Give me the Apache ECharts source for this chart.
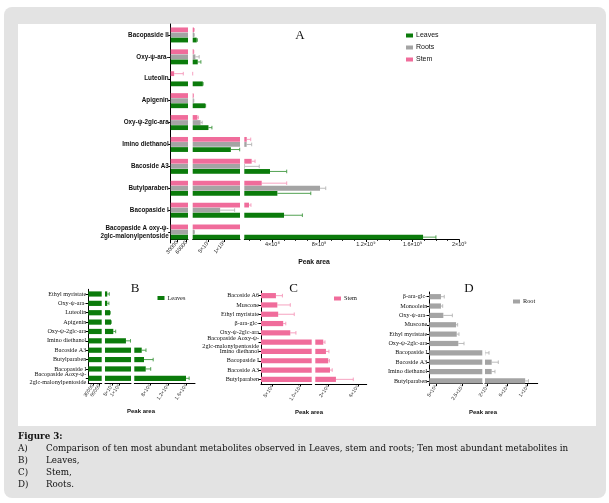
<!DOCTYPE html>
<html><head><meta charset="utf-8">
<script src="https://cdn.jsdelivr.net/npm/echarts@6/dist/echarts.min.js"></script>
<style>
html,body{margin:0;padding:0;background:#fff;}
#bg{position:absolute;left:4px;top:7px;width:602px;height:491px;background:#e3e3e3;border-radius:8px;}
#panel{position:absolute;left:17.5px;top:23.5px;width:578px;height:402px;background:#fff;}
#c{position:absolute;left:0;top:0;width:609px;height:503px;}
</style>
</head><body><div id="bg"></div><div id="panel"></div><div id="c"></div>
<script>
// ---------- DATA ----------
const categoriesA = ['Bacopaside II','Oxy-ψ-ara-','Luteolin','Apigenin','Oxy-ψ-2glc-ara','Imino diethanol','Bacoside A3','Butylparaben','Bacopaside I','Bacopaside A oxy-ψ-\n2glc-malonylpentoside'];
const leavesA   = [1.27e7, 1.6e7, 3.2e7, 4.0e7, 5.0e7, 1.21e8, 3.8e8, 4.43e8, 5.0e8, 1.69e9];
const leavesSdA = [2e6, 1e7, 1e6, 1e6, 1.1e7, 2.8e7, 1.43e8, 2.86e8, 1.57e8, 1.1e8];
const rootsA    = [4e6, 8.5e6, 0, 3e6, 2.5e7, 1.8e8, 1.65e8, 8.08e8, 8.7e7, 5e6];
const rootsSdA  = [1e6, 1.2e7, 0, 5e5, 5e6, 4.3e7, 1.23e8, 4.9e7, 4.6e7, 5e5];
const stemA     = [4e6, 3e6, 21000, 2e6, 1.5e7, 1.81e8, 2.23e8, 3.09e8, 2.0e8, 1.55e8];
const stemSdA   = [1e6, 5e5, 29000, 5e5, 3e6, 3.4e7, 2.9e7, 2.14e8, 1.7e7, 0];

const categoriesB = ['Ethyl myristate','Oxy-ψ-ara-','Luteolin','Apigenin','Oxy-ψ-2glc-ara','Imino diethanol','Bacoside A3','Butylparaben','Bacopaside I','Bacopaside Aoxy-ψ-\n2glc-malonylpentoside'];
const leavesB   = [1.6e7, 1.6e7, 3.55e7, 4.26e7, 5.9e7, 1.49e8, 6.15e8, 6.66e8, 7.04e8, 1.6e9];
const leavesSdB = [1.45e7, 1.2e7, 2e6, 2e6, 1.7e7, 3.3e7, 9.5e7, 2.04e8, 1.11e8, 7e7];

const categoriesC = ['Bacoside A6','Muscone','Ethyl myristate','β-ara-glc-','Oxy-ψ-2glc-ara','Bacopaside Aoxy-ψ-\n2glc-malonylpentoside','Imino diethanol','Bacopaside I','Bacoside A3','Butylparaben'];
const stemC   = [5.65e6, 5.9e6, 6.05e6, 6.94e6, 8.2e6, 1.37e8, 1.73e8, 2.04e8, 2.27e8, 3.07e8];
const stemSdC = [1.15e6, 2.3e6, 2.85e6, 4.6e5, 1.0e6, 2.3e7, 4e7, 1.6e7, 3e7, 2.33e8];

const categoriesD = ['β-ara-glc-','Monoolein','Oxy-ψ-ara-','Muscone','Ethyl myristate','Oxy-ψ-2glc-ara','Bacopaside I','Bacoside A3','Imino diethanol','Butylparaben'];
const rootD   = [8.8e6, 8.8e6, 1.06e7, 2.02e7, 2.07e7, 2.19e7, 1.55e8, 2.83e8, 2.83e8, 9.5e8];
const rootSdD = [2.5e6, 1.3e6, 6.8e6, 1.2e6, 1.7e6, 4.3e6, 7.5e7, 1.32e8, 6.6e7, 6.6e7];

const ticksA = [[30000, 60000], [5e7, 1e8], [4e8, 8e8, 1.2e9, 1.6e9, 2e9]];
const tickLabelsA = [['30000','60000'], ['5×10⁷','1×10⁸'], ['4×10⁸','8×10⁸','1.2×10⁹','1.6×10⁹','2×10⁹']];
const minorTicksA3 = [2e8, 3e8, 5e8, 6e8, 7e8, 9e8, 1e9, 1.1e9, 1.3e9, 1.4e9, 1.5e9, 1.7e9, 1.8e9, 1.9e9];
const ticksB = [[30000, 60000], [5e7, 1e8], [8e8, 1.2e9, 1.6e9]];
const tickLabelsB = [['30000','60000'], ['5×10⁷','1×10⁸'], ['8×10⁸','1.2×10⁹','1.6×10⁹']];
const ticksC = [[5e6, 1e7], [2e8, 6e8]];
const tickLabelsC = [['5×10⁶','1.0×10⁷'], ['2×10⁸','6×10⁸']];
const ticksD = [[5e6, 2.5e7], [2e8, 6e8, 1e9]];
const tickLabelsD = [['5×10⁶','2.5×10⁷'], ['2×10⁸','6×10⁸','1×10⁹']];

// ---------- STYLE / LAYOUT ----------
const GREEN = '#0b7b0b', GREY = '#a4a4a4', PINK = '#f06c9b';
const ERR = {'#0b7b0b': '#3f973f', '#a4a4a4': '#b4b4b4', '#f06c9b': '#f598ba'};
const SANS = '"Liberation Sans", "DejaVu Sans", Arial, sans-serif';
const SERIF = '"Liberation Serif", "DejaVu Serif", serif';

const option = {
  animation: false, backgroundColor: 'transparent',
  grid: [], xAxis: [], yAxis: [], series: [], legend: [], graphic: []
};

function lookup(ticks, labels, v) {
  for (let i = 0; i < ticks.length; i++) if (Math.abs(ticks[i] - v) <= Math.abs(ticks[i]) * 1e-9) return labels[i];
  return '';
}

function panel(p) {
  const n = p.series.length, w = p.barWidth, g = p.barGapFrac;
  const total = n * w + (n - 1) * g * w;
  p.segs.forEach((s, i) => {
    const gi = option.grid.length;
    option.grid.push({left: s.left, top: p.top, width: s.width, height: p.height, containLabel: false, outerBoundsMode: 'none'});
    option.xAxis.push({
      gridIndex: gi, type: 'value', min: s.min, max: s.max, offset: p.xOffset || 0,
      axisLine: {show: true, onZero: false, lineStyle: {color: '#000', width: 1}},
      axisTick: {show: true, length: 2.5, customValues: p.ticks[i], lineStyle: {color: '#000', width: 1}},
      axisLabel: {show: true, customValues: p.ticks[i], formatter: v => lookup(p.ticks[i], p.labels[i], v),
        rotate: p.rotate[i], fontSize: p.tickFont, fontFamily: SANS, color: '#222', margin: 2},
      splitLine: {show: false}, minorTick: {show: false}
    });
    if (p.minor && p.minor[i]) {
      option.xAxis.push({
        gridIndex: gi, type: 'value', min: s.min, max: s.max, position: 'bottom', offset: p.xOffset || 0,
        axisLine: {show: false}, axisLabel: {show: false}, splitLine: {show: false},
        axisTick: {show: true, length: 1.5, customValues: p.minor[i], lineStyle: {color: '#000', width: 0.8}}
      });
    }
    option.yAxis.push({
      gridIndex: gi, type: 'category', data: p.cats, inverse: true, show: i === 0,
      axisLine: {show: true, onZero: false, lineStyle: {color: '#000', width: 1}},
      axisTick: {show: true, alignWithLabel: true, length: 2.5, lineStyle: {color: '#000', width: 1}},
      axisLabel: {interval: 0, fontSize: p.catFont, fontFamily: p.catFamily, fontWeight: p.catWeight,
        color: '#111', margin: 2, lineHeight: 8},
      splitLine: {show: false}
    });
    const xi = option.xAxis.length - (p.minor && p.minor[i] ? 2 : 1);
    p.series.forEach(se => {
      option.series.push({type: 'bar', name: se.name, xAxisIndex: xi, yAxisIndex: gi, data: se.data,
        barWidth: w, barGap: (g * 100) + '%', itemStyle: {color: se.color}, clip: true, silent: true});
    });
    p.series.forEach((se, k) => {
      const off = -total / 2 + k * w * (1 + g) + w / 2;
      const col = ERR[se.color] || se.color;
      option.series.push({
        type: 'custom', xAxisIndex: xi, yAxisIndex: gi, clip: true, silent: true,
        data: se.data.map((v, j) => [v, v + se.sd[j], j]),
        encode: {x: [0, 1], y: 2},
        renderItem: (params, api) => {
          const v = api.value(0), e = api.value(1), c = api.value(2);
          if (!(e > v)) return null;
          const p1 = api.coord([v, c]), p2 = api.coord([e, c]);
          const y = p1[1] + off;
          return {type: 'group', children: [
            {type: 'line', shape: {x1: p1[0], y1: y, x2: p2[0], y2: y}, style: {stroke: col, lineWidth: 0.9}},
            {type: 'line', shape: {x1: p2[0], y1: y - 1.8, x2: p2[0], y2: y + 1.8}, style: {stroke: col, lineWidth: 0.9}}
          ]};
        }
      });
    });
  });
}

panel({
  cats: categoriesA, top: 24, height: 219, xOffset: -3.5,
  segs: [{left: 170.7, width: 17.3, min: 10000, max: 65000},
         {left: 192.7, width: 47.3, min: 0, max: 1.5e8},
         {left: 244.3, width: 215, min: 1.6e8, max: 2e9}],
  ticks: ticksA, labels: tickLabelsA, minor: [null, null, minorTicksA3], rotate: [50, 50, 0], tickFont: 5.5,
  catFont: 6.3, catFamily: SANS, catWeight: 'bold',
  barWidth: 4.8, barGapFrac: 0.06,
  series: [{name: 'Stem', color: PINK, data: stemA, sd: stemSdA},
           {name: 'Roots', color: GREY, data: rootsA, sd: rootsSdA},
           {name: 'Leaves', color: GREEN, data: leavesA, sd: leavesSdA}]
});
panel({
  cats: categoriesB, top: 289.3, height: 93.7,
  segs: [{left: 88.3, width: 13.4, min: 10000, max: 70000},
         {left: 105, width: 26, min: 0, max: 1.85e8},
         {left: 134.3, width: 60.7, min: 4.5e8, max: 1.8e9}],
  ticks: ticksB, labels: tickLabelsB, rotate: [55, 55, 55], tickFont: 5,
  catFont: 6.2, catFamily: SERIF, catWeight: 'normal',
  barWidth: 5.2, barGapFrac: 0,
  series: [{name: 'Leaves', color: GREEN, data: leavesB, sd: leavesSdB}]
});
panel({
  cats: categoriesC, top: 291, height: 93,
  segs: [{left: 261, width: 50.7, min: 3e6, max: 1.2e7},
         {left: 315.3, width: 51.4, min: 3e7, max: 7.2e8}],
  ticks: ticksC, labels: tickLabelsC, rotate: [55, 55], tickFont: 5,
  catFont: 6.2, catFamily: SERIF, catWeight: 'normal',
  barWidth: 5.2, barGapFrac: 0,
  series: [{name: 'Stem', color: PINK, data: stemC, sd: stemSdC}]
});
panel({
  cats: categoriesD, top: 292, height: 93.6, xOffset: -2,
  segs: [{left: 429.3, width: 53, min: 0, max: 4e7},
         {left: 485, width: 52.7, min: 1.5e8, max: 1.2e9}],
  ticks: ticksD, labels: tickLabelsD, rotate: [55, 55], tickFont: 5,
  catFont: 6.2, catFamily: SERIF, catWeight: 'normal',
  barWidth: 5.2, barGapFrac: 0,
  series: [{name: 'Root', color: GREY, data: rootD, sd: rootSdD}]
});

const legendBase = {orient: 'vertical', icon: 'rect', itemWidth: 7, itemHeight: 4, itemGap: 5, selectedMode: false, padding: 0};
option.legend = [
  Object.assign({}, legendBase, {data: ['Leaves', 'Roots', 'Stem'], left: 406, top: 32, textStyle: {fontSize: 7, fontFamily: SANS, color: '#111', padding: [0, 0, 0, -2]}}),
  Object.assign({}, legendBase, {data: ['Leaves'], left: 157.5, top: 295, textStyle: {fontSize: 6.3, fontFamily: SERIF, color: '#111', padding: [0, 0, 0, -2]}}),
  Object.assign({}, legendBase, {data: ['Stem'], left: 334, top: 295.5, textStyle: {fontSize: 6.3, fontFamily: SERIF, color: '#111', padding: [0, 0, 0, -2]}}),
  Object.assign({}, legendBase, {data: ['Root'], left: 513, top: 298.5, textStyle: {fontSize: 6.3, fontFamily: SERIF, color: '#111', padding: [0, 0, 0, -2]}})
];

function txt(x, y, text, font, align) {
  return {type: 'text', x: x, y: y, silent: true, style: {text: text, font: font, fill: '#111', align: align || 'left', verticalAlign: 'middle'}};
}
const CAPSERIF = '"DejaVu Serif", "Liberation Serif", serif';
const capFont = '8.75px ' + CAPSERIF;
option.graphic = [
  txt(300, 36, 'A', '13px ' + SERIF, 'center'),
  txt(135, 288.5, 'B', '13px ' + SERIF, 'center'),
  txt(293.5, 288.5, 'C', '13px ' + SERIF, 'center'),
  txt(469, 288.5, 'D', '13px ' + SERIF, 'center'),
  txt(314, 262, 'Peak area', 'bold 6.8px ' + SANS, 'center'),
  txt(141, 411.5, 'Peak area', 'bold 6px ' + SANS, 'center'),
  txt(309, 412, 'Peak area', 'bold 6px ' + SANS, 'center'),
  txt(483, 412, 'Peak area', 'bold 6px ' + SANS, 'center'),
  txt(18, 437, 'Figure 3:', 'bold ' + capFont, 'left'),
  txt(18, 449, 'A)', capFont), txt(46, 449, 'Comparison of ten most abundant metabolites observed in Leaves, stem and roots; Ten most abundant metabolites in', capFont),
  txt(18, 461, 'B)', capFont), txt(46, 461, 'Leaves,', capFont),
  txt(18, 473, 'C)', capFont), txt(46, 473, 'Stem,', capFont),
  txt(18, 485, 'D)', capFont), txt(46, 485, 'Roots.', capFont)
];

const chart = echarts.init(document.getElementById('c'), null, {renderer: 'canvas'});
chart.setOption(option);
</script>
</body></html>
